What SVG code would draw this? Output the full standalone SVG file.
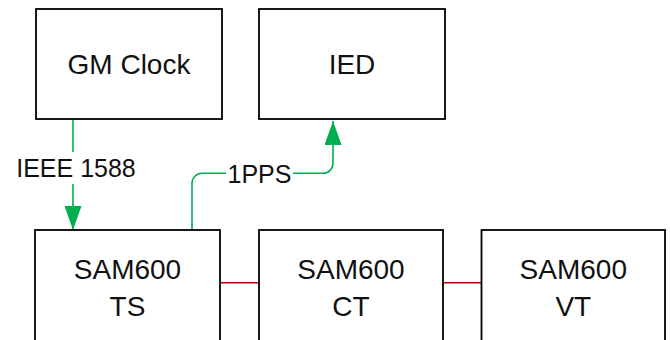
<svg xmlns="http://www.w3.org/2000/svg" width="670" height="340" viewBox="0 0 670 340">
<style>
.box{fill:#fff;stroke:#000;stroke-width:1.8}
.t{font-family:"Liberation Sans",Arial,sans-serif;font-size:28px;fill:#111;text-anchor:middle}
.lbl{font-family:"Liberation Sans",Arial,sans-serif;font-size:25px;fill:#111;text-anchor:middle}
.g{fill:none;stroke:#00B050;stroke-width:1.6}
.r{fill:none;stroke:#C00000;stroke-width:1.6}
</style>
<defs>
<marker id="ag" markerUnits="userSpaceOnUse" markerWidth="24" markerHeight="17" refX="24" refY="8.5" orient="auto">
<path d="M0,0 L24,8.5 L0,17 z" fill="#00B050"/>
</marker>
</defs>
<rect width="670" height="340" fill="#fff"/>
<g id="connectors">
<path class="g" d="M73,119 V152"/>
<path class="g" d="M73,184 V230" marker-end="url(#ag)"/>
<path class="g" d="M192,230 V183.3 A10,10 0 0 1 202,173.3 H226"/>
<path class="g" d="M293,173.3 H323 A10,10 0 0 0 333,163.3 V121" marker-end="url(#ag)"/>
<path class="r" d="M220,282.7 H259"/>
<path class="r" d="M443,282.7 H481.5"/>
<text class="lbl" x="76" y="176.7">IEEE 1588</text>
<text class="lbl" x="259.5" y="182.7">1PPS</text>
</g>
<g id="gm-clock">
<rect class="box" x="36" y="9" width="186" height="110"/>
<text class="t" x="129" y="74">GM Clock</text>
</g>
<g id="ied">
<rect class="box" x="259" y="9" width="186" height="110"/>
<text class="t" x="352" y="74">IED</text>
</g>
<g id="sam600-ts">
<rect class="box" x="35" y="230" width="185" height="130"/>
<text class="t" x="127.5" y="278.5">SAM600</text>
<text class="t" x="127.5" y="316">TS</text>
</g>
<g id="sam600-ct">
<rect class="box" x="259" y="230" width="184" height="130"/>
<text class="t" x="351" y="278.5">SAM600</text>
<text class="t" x="351" y="316">CT</text>
</g>
<g id="sam600-vt">
<rect class="box" x="481.5" y="230" width="183.5" height="130"/>
<text class="t" x="573.3" y="278.5">SAM600</text>
<text class="t" x="573.3" y="316">VT</text>
</g>
</svg>
